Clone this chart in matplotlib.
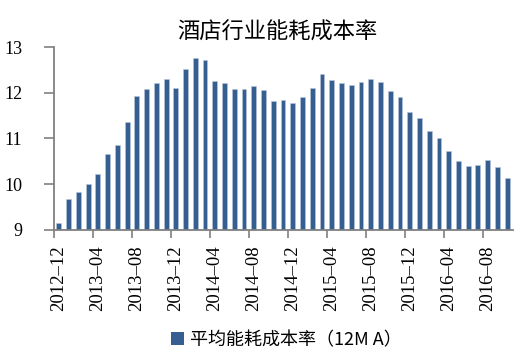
import matplotlib
matplotlib.use("Agg")
import matplotlib.pyplot as plt
from matplotlib.patches import Patch

plt.rcParams['font.family'] = ['Noto Sans CJK SC', 'DejaVu Sans']

months = []
y, m = 2012, 12
for _ in range(47):
    months.append(f"{y}-{m:02d}")
    m += 1
    if m > 12:
        m = 1
        y += 1

values = [9.16, 9.67, 9.82, 10.00, 10.22, 10.67, 10.85, 11.36, 11.92, 12.09,
          12.21, 12.31, 12.11, 12.53, 12.75, 12.72, 12.26, 12.22, 12.09, 12.08,
          12.14, 12.07, 11.83, 11.85, 11.78, 11.91, 12.10, 12.41, 12.27, 12.21,
          12.16, 12.24, 12.29, 12.24, 12.03, 11.91, 11.57, 11.44, 11.16, 11.01,
          10.72, 10.51, 10.39, 10.42, 10.52, 10.37, 10.13]

title = "酒店行业能耗成本率"
series_name = "平均能耗成本率（12M A）"
yticks = [9, 10, 11, 12, 13]

bar_color = "#365F91"
axis_color = "#808080"
serif = 'Liberation Serif'

fig = plt.figure(figsize=(5.24, 3.6), dpi=100)
ax = fig.add_axes([54/524, 1-230/360, (513-54)/524, (230-47)/360])

ax.tick_params(axis='x', which='minor', length=0, pad=11,
               labelfontfamily=serif, labelsize=13.5, labelrotation=90)
ax.tick_params(axis='x', which='major', length=6, width=1.2, color=axis_color)
ax.tick_params(axis='y', length=7, width=1.2, color=axis_color, pad=16,
               labelfontfamily=serif, labelsize=13)

x = list(range(len(values)))
ax.bar(x, [v - 9 for v in values], bottom=9, width=0.5, color=bar_color,
       edgecolor="#b8c6dc", linewidth=0.4)

ax.set_ylim(9, 13)
ax.set_xlim(-0.5, 46.6)
ax.set_yticks(yticks)
ax.set_yticklabels([str(t) for t in yticks], fontfamily=serif, fontsize=13)

label_idx = list(range(0, len(values), 4))
ax.set_xticks([i - 0.5 for i in label_idx])
ax.set_xticklabels([])
ax.set_xticks(label_idx, minor=True)
ax.set_xticklabels([months[i].replace("-", "–") for i in label_idx], minor=True,
                   rotation=90, fontfamily=serif, fontsize=13.5, va='top')

for s in ['top', 'right']:
    ax.spines[s].set_visible(False)
for s in ['left', 'bottom']:
    ax.spines[s].set_color(axis_color)
    ax.spines[s].set_linewidth(1.3)

fig.text(277/524, 1-32/360, title, ha='center', va='center', fontsize=16, fontweight='medium')

fig.legend(handles=[Patch(facecolor=bar_color, edgecolor='none', label=series_name)],
           loc='center', bbox_to_anchor=(286/524, 1-340/360), frameon=False,
           fontsize=13, handlelength=0.75, handleheight=0.75, handletextpad=0.3)

fig.savefig("out.png", dpi=100)
